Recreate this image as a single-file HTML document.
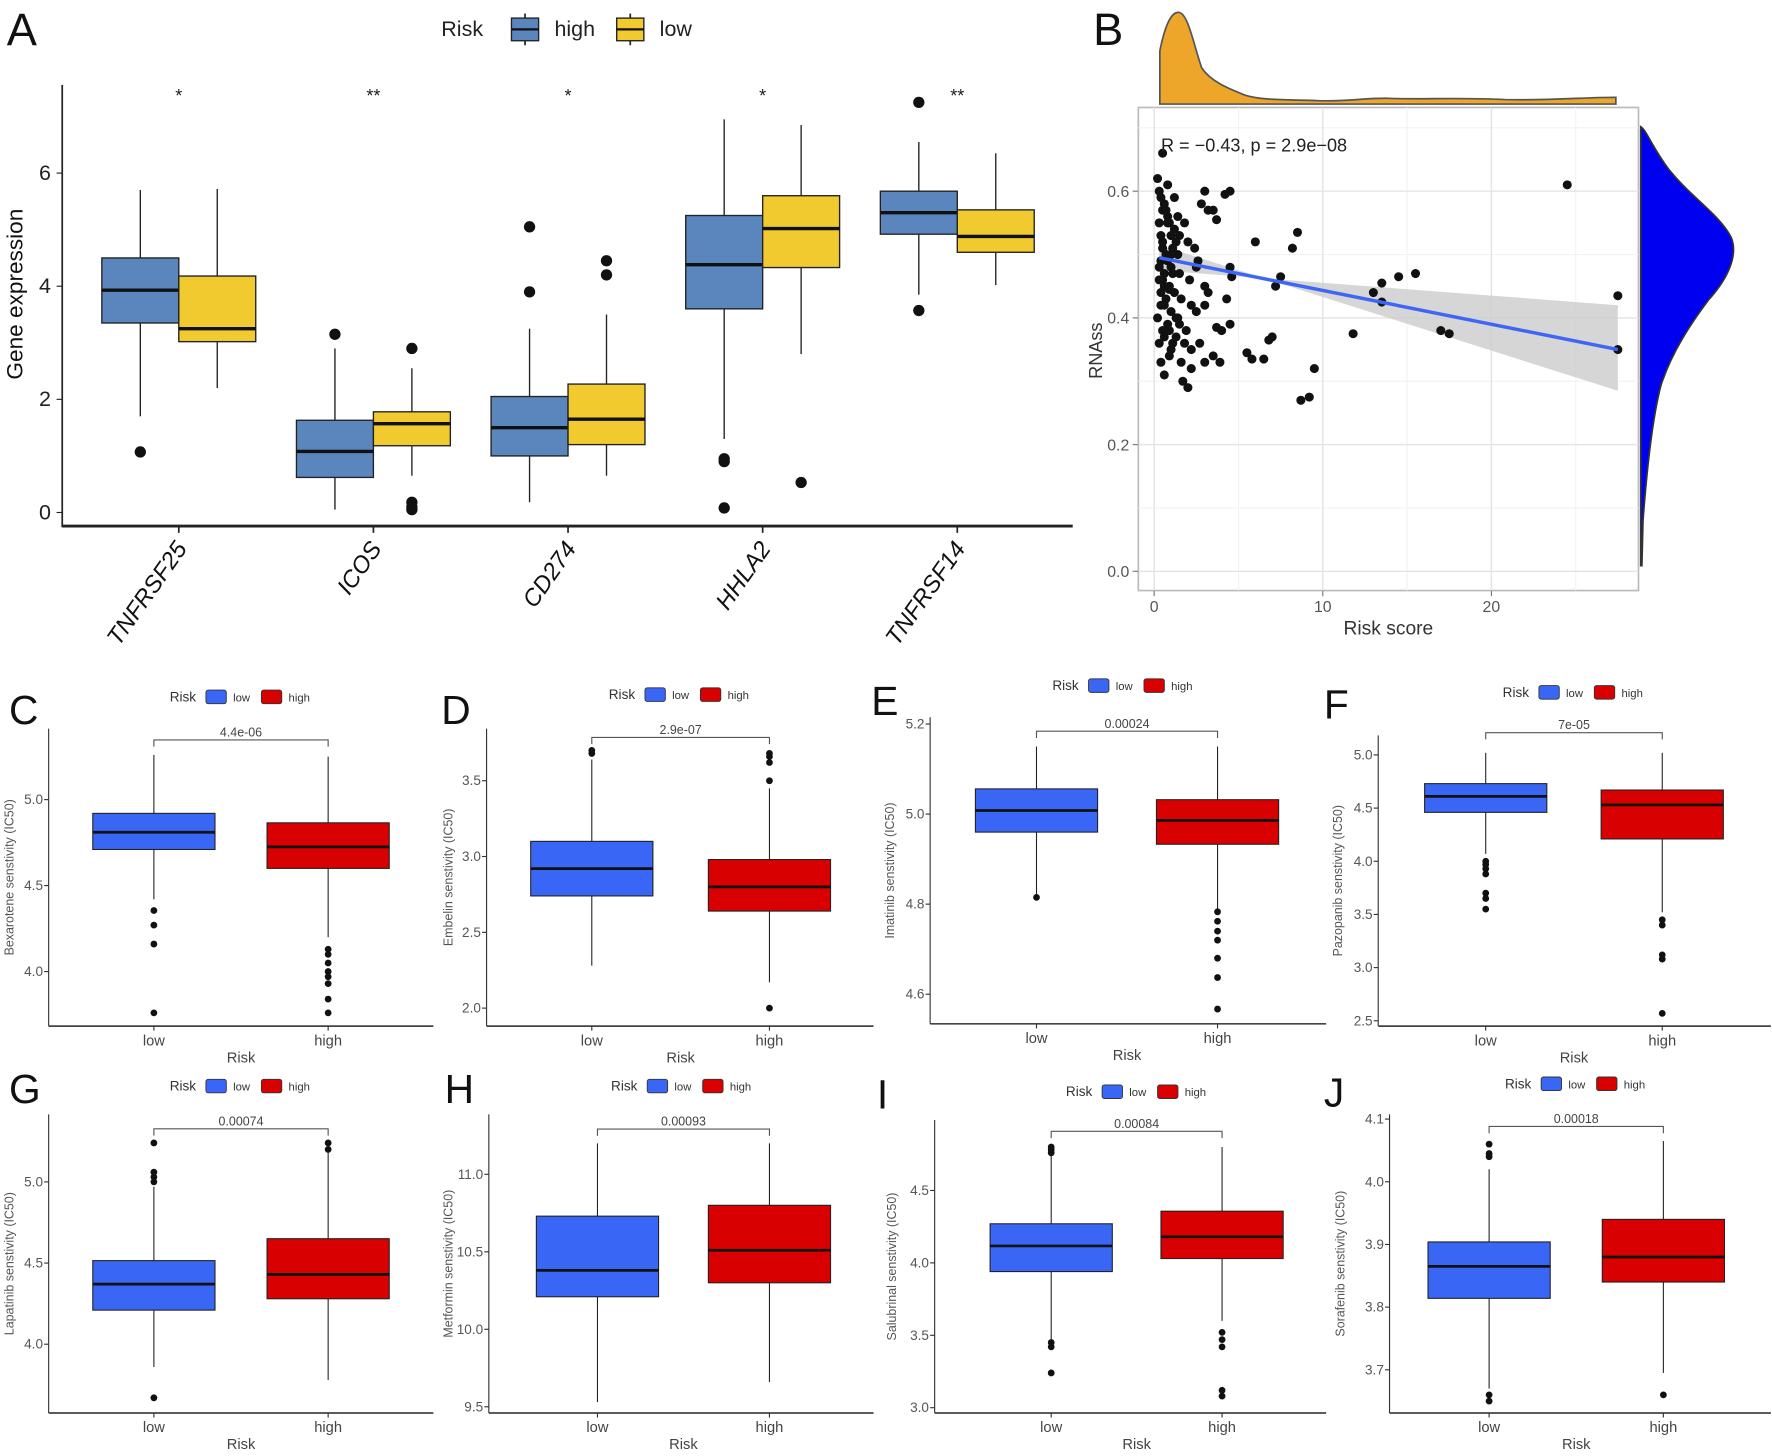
<!DOCTYPE html>
<html><head><meta charset="utf-8"><style>
html,body{margin:0;padding:0;background:#fff;}
svg{display:block;font-family:"Liberation Sans",sans-serif;}
</style></head><body>
<svg id="fig" width="1772" height="1456" viewBox="0 0 1566 1287" preserveAspectRatio="none" xmlns="http://www.w3.org/2000/svg"></svg>
<script>
// ---------- Panel A data ----------
const genes = ["TNFRSF25","ICOS","CD274","HHLA2","TNFRSF14"];
const sigLabels = ["*","**","*","*","**"];
const aTicks = [0,2,4,6];
// [lowWhisker, q1, median, q3, highWhisker]
const aHigh = [[1.7,3.35,3.93,4.5,5.7],[0.05,0.62,1.08,1.63,2.9],[0.18,1.0,1.5,2.05,3.25],[1.3,3.6,4.38,5.25,6.95],[3.85,4.92,5.3,5.68,6.55]];
const aLow = [[2.2,3.02,3.25,4.18,5.72],[0.65,1.18,1.57,1.78,2.55],[0.65,1.2,1.65,2.27,3.5],[2.8,4.33,5.02,5.6,6.85],[4.02,4.6,4.88,5.35,6.35]];
const aHighOut = [[1.07],[3.15],[3.9,5.05],[0.95,0.9,0.08],[7.25,3.57]];
const aLowOut = [[],[2.9,0.18,0.1,0.05],[4.2,4.45],[0.53],[]];

// ---------- Panel B data ----------
const bXTicks = [0,10,20];
const bYTicks = [0.0,0.2,0.4,0.6];
const riskScore = [0.2,0.3,0.4,0.5,0.3,0.6,0.8,0.4,0.5,0.9,1.0,0.7,1.2,0.3,0.5,0.8,1.1,1.3,0.4,0.6,0.9,1.4,0.2,0.7,1.0,1.5,0.5,0.8,1.2,0.3,0.6,1.0,1.3,1.6,0.4,0.9,1.1,0.5,0.7,1.4,0.3,0.8,1.2,0.6,1.0,0.4,1.5,0.9,0.6,1.3,0.5,1.1,0.8,0.4,1.6,1.9,2.2,2.0,1.8,2.5,2.8,3.0,3.2,3.5,3.7,4.2,4.5,2.4,2.6,3.0,1.8,2.2,4.5,4.6,4.3,4.5,4.0,3.7,3.9,3.5,3.2,3.0,2.5,2.0,2.2,3.0,2.1,1.7,5.5,5.8,6.0,6.5,6.8,7.0,7.2,7.5,8.2,8.5,8.7,9.2,9.5,11.8,13.0,13.5,13.5,14.5,15.5,17.0,17.5,24.5,27.5,27.5,1.0,0.6,1.4,2.7,1.5,0.9];
const rnass = [0.62,0.60,0.59,0.57,0.55,0.58,0.56,0.53,0.51,0.55,0.53,0.50,0.54,0.48,0.46,0.49,0.47,0.52,0.44,0.42,0.45,0.50,0.40,0.43,0.41,0.47,0.38,0.39,0.44,0.36,0.37,0.35,0.40,0.43,0.33,0.38,0.36,0.52,0.57,0.56,0.46,0.61,0.59,0.45,0.48,0.42,0.39,0.34,0.31,0.37,0.66,0.51,0.55,0.49,0.33,0.38,0.42,0.52,0.55,0.48,0.58,0.60,0.57,0.57,0.555,0.595,0.60,0.51,0.49,0.45,0.36,0.35,0.48,0.465,0.43,0.39,0.38,0.385,0.33,0.34,0.44,0.42,0.41,0.29,0.32,0.33,0.46,0.30,0.345,0.335,0.52,0.335,0.365,0.37,0.45,0.465,0.51,0.535,0.27,0.275,0.32,0.375,0.44,0.425,0.455,0.465,0.47,0.38,0.375,0.61,0.435,0.35,0.50,0.47,0.40,0.36,0.53,0.445];
const fitStart = [0.3,0.495];
const fitEnd = [27.5,0.35];

// ---------- Bottom panels data ----------
const drugNames = ["Bexarotene","Embelin","Imatinib","Pazopanib","Lapatinib","Metformin","Salubrinal","Sorafenib"];
const panelLetters = ["C","D","E","F","G","H","I","J"];
const pValues = ["4.4e-06","2.9e-07","0.00024","7e-05","0.00074","0.00093","0.00084","0.00018"];
const drugTicks = [[4.0,4.5,5.0],[2.0,2.5,3.0,3.5],[4.6,4.8,5.0,5.2],[2.5,3.0,3.5,4.0,4.5,5.0],[4.0,4.5,5.0],[9.5,10.0,10.5,11.0],[3.0,3.5,4.0,4.5],[3.7,3.8,3.9,4.0,4.1]];
const tickFmt = [1,1,1,1,1,1,1,1];
const lowStats = [[4.42,4.71,4.81,4.92,5.26],[2.28,2.74,2.92,3.10,3.64],[4.82,4.96,5.008,5.056,5.15],[4.07,4.46,4.61,4.73,5.02],[3.86,4.21,4.37,4.515,4.97],[9.53,10.21,10.38,10.73,11.2],[3.47,3.94,4.117,4.27,4.8],[3.67,3.814,3.865,3.904,4.02]];
const highStats = [[4.2,4.60,4.725,4.865,5.25],[2.17,2.64,2.80,2.98,3.45],[4.79,4.933,4.986,5.032,5.15],[3.52,4.21,4.53,4.67,5.02],[3.78,4.28,4.43,4.65,5.18],[9.66,10.30,10.51,10.80,11.2],[3.6,4.03,4.18,4.357,4.8],[3.695,3.84,3.88,3.94,4.065]];
const lowOut = [[4.355,4.27,4.16,3.76],[3.68,3.70],[4.815],[4.0,3.97,3.93,3.88,3.7,3.65,3.55],[5.0,5.03,5.06,5.24,3.67],[],[4.76,4.78,4.8,3.45,3.42,3.24],[4.06,4.045,4.04,3.66,3.65]];
const highOut = [[4.13,4.1,4.05,4.0,3.97,3.93,3.84,3.76],[3.5,3.62,3.66,3.68,2.0],[4.783,4.762,4.74,4.72,4.68,4.637,4.567],[3.45,3.4,3.12,3.08,2.57],[5.24,5.2],[],[3.52,3.47,3.42,3.12,3.08],[3.66]];
// layout (pixel) per panel – not data
const pl = [
 {ax:43,ar:383,top:644,bot:907,xl:136,xh:290,refV:5.0,refY:706.8,ppu:152,br:654,lx:150,ly:616,L:[8,640],yl:12},
 {ax:430,ar:772,top:644,bot:907,xl:523,xh:680,refV:3.0,refY:757.1,ppu:134,br:651.8,lx:538,ly:614,L:[390,640],yl:400},
 {ax:822,ar:1172,top:634,bot:905,xl:916,xh:1076,refV:5.0,refY:719.6,ppu:398,br:646.3,lx:930,ly:606,L:[770,632],yl:790},
 {ax:1218,ar:1565,top:650,bot:907,xl:1313,xh:1469,refV:4.0,refY:761.3,ppu:94,br:647.6,lx:1328,ly:612,L:[1170,635],yl:1186},
 {ax:43,ar:383,top:985,bot:1249,xl:136,xh:290,refV:5.0,refY:1044.7,ppu:143.5,br:997.8,lx:150,ly:960,L:[8,975],yl:12},
 {ax:432,ar:772,top:985,bot:1249,xl:528,xh:680,refV:10.5,refY:1106.5,ppu:137,br:998,lx:540,ly:960,L:[393,975],yl:400},
 {ax:826,ar:1172,top:990,bot:1249,xl:929,xh:1080,refV:4.0,refY:1116.3,ppu:128,br:1000,lx:942,ly:965,L:[775,980],yl:792},
 {ax:1228,ar:1565,top:985,bot:1249,xl:1316,xh:1470,refV:3.9,refY:1100,ppu:554,br:995.7,lx:1330,ly:958,L:[1170,978],yl:1188}
];

const NS="http://www.w3.org/2000/svg";
const svg=document.getElementById('fig');
function el(tag,attrs,parent,text){const e=document.createElementNS(NS,tag);for(const k in attrs)e.setAttribute(k,attrs[k]);if(text!==undefined)e.textContent=text;(parent||svg).appendChild(e);return e;}

function drawBox(g,cx,w,s,outs,yf,fill,sw,r,name){
  const grp=el('g',{},g);
  
  
  el('line',{x1:cx,x2:cx,y1:yf(s[4]),y2:yf(s[3]),stroke:'#222','stroke-width':sw*0.6},grp);
  el('line',{x1:cx,x2:cx,y1:yf(s[1]),y2:yf(s[0]),stroke:'#222','stroke-width':sw*0.6},grp);
  el('rect',{x:cx-w/2,y:yf(s[3]),width:w,height:yf(s[1])-yf(s[3]),fill:fill,stroke:'#222','stroke-width':sw*0.6},grp);
  el('line',{x1:cx-w/2,x2:cx+w/2,y1:yf(s[2]),y2:yf(s[2]),stroke:'#111','stroke-width':sw*1.5},grp);
  outs.forEach(v=>el('circle',{cx:cx,cy:yf(v),r:r,fill:'#111'},grp));
}

// ===== Panel A =====
(function(){
  const g=el('g',{});
  
  
  const y=v=>453-50*v;
  const catX=i=>158+172*i;
  el('text',{x:6,y:40,'font-size':40,fill:'#111'},g,'A');
  const lg=el('g',{},g);
  
  
  el('text',{x:390,y:32,'font-size':19,fill:'#222'},lg,'Risk');
  el('line',{x1:464,x2:464,y1:12,y2:40,stroke:'#222','stroke-width':1.5},lg);
  el('rect',{x:452,y:16,width:24,height:20,fill:'#5a86bd',stroke:'#222','stroke-width':1.2},lg);
  el('line',{x1:452,x2:476,y1:26,y2:26,stroke:'#111','stroke-width':2},lg);
  el('text',{x:490,y:32,'font-size':19,fill:'#222'},lg,'high');
  el('line',{x1:557,x2:557,y1:12,y2:40,stroke:'#222','stroke-width':1.5},lg);
  el('rect',{x:545,y:16,width:24,height:20,fill:'#f0ca2f',stroke:'#222','stroke-width':1.2},lg);
  el('line',{x1:545,x2:569,y1:26,y2:26,stroke:'#111','stroke-width':2},lg);
  el('text',{x:583,y:32,'font-size':19,fill:'#222'},lg,'low');
  el('line',{x1:55,x2:55,y1:75,y2:466,stroke:'#222','stroke-width':1.5},g);
  el('line',{x1:55,x2:948,y1:465,y2:465,stroke:'#222','stroke-width':2.5},g);
  aTicks.forEach(t=>{
    el('line',{x1:50,x2:55,y1:y(t),y2:y(t),stroke:'#222'},g);
    const tt=el('text',{x:45,y:y(t)+6,'font-size':19,'text-anchor':'end',fill:'#222'},g,String(t));
    
  });
  const yt=el('text',{x:20,y:260,'font-size':20,'text-anchor':'middle',fill:'#111',transform:'rotate(-90 20 260)'},g,'Gene expression');
  
  genes.forEach((gn,i)=>{
    const cx=catX(i);
    el('line',{x1:cx,x2:cx,y1:465,y2:471,stroke:'#222','stroke-width':1.5},g);
    const lbl=el('text',{x:cx+8,y:485,'font-size':21,'font-style':'italic','text-anchor':'end',fill:'#111',transform:`rotate(-55 ${cx+8} 485)`},g,gn);
    
    const st=el('text',{x:cx,y:90,'font-size':16,'text-anchor':'middle',fill:'#222'},g,sigLabels[i]);
    
    drawBox(g,cx-34,68,aHigh[i],aHighOut[i],y,'#5a86bd',2,5,'box-high-'+gn.toLowerCase());
    drawBox(g,cx+34,68,aLow[i],aLowOut[i],y,'#f0ca2f',2,5,'box-low-'+gn.toLowerCase());
  });
})();

// ===== Panel B =====
(function(){
  const g=el('g',{});
  
  
  const L=1006,R=1448,T=95,B=522;
  const x=v=>1020+14.9*v;
  const y=v=>505-560*v;
  el('text',{x:966,y:40,'font-size':40,fill:'#111'},g,'B');
  el('rect',{x:L,y:T,width:R-L,height:B-T,fill:'#fff',stroke:'#bbb','stroke-width':1.5},g);
  [5,15,25].forEach(v=>el('line',{x1:x(v),x2:x(v),y1:T,y2:B,stroke:'#f2f2f2','stroke-width':1},g));
  [0.1,0.3,0.5,0.7].forEach(v=>el('line',{x1:L,x2:R,y1:y(v),y2:y(v),stroke:'#f2f2f2','stroke-width':1},g));
  bXTicks.forEach(v=>{el('line',{x1:x(v),x2:x(v),y1:T,y2:B,stroke:'#e4e4e4','stroke-width':1.3},g);
    el('line',{x1:x(v),x2:x(v),y1:B,y2:B+5,stroke:'#777'},g);
    const t=el('text',{x:x(v),y:B+19,'font-size':14,'text-anchor':'middle',fill:'#555'},g,String(v));});
  bYTicks.forEach(v=>{el('line',{x1:L,x2:R,y1:y(v),y2:y(v),stroke:'#e4e4e4','stroke-width':1.3},g);
    el('line',{x1:L-5,x2:L,y1:y(v),y2:y(v),stroke:'#777'},g);
    const t=el('text',{x:L-8,y:y(v)+5,'font-size':14,'text-anchor':'end',fill:'#555'},g,v.toFixed(1));});
  const band=el('path',{d:`M${x(0.3)},${y(0.475)} L${x(27.5)},${y(0.42)} L${x(27.5)},${y(0.285)} L${x(0.3)},${y(0.515)} Z`,fill:'#cfcfcf',opacity:0.85},g);
  
  riskScore.forEach((v,i)=>{const c=el('circle',{cx:x(v),cy:y(rnass[i]),r:4,fill:'#111'},g);});
  const fl=el('line',{x1:x(fitStart[0]),y1:y(fitStart[1]),x2:x(fitEnd[0]),y2:y(fitEnd[1]),stroke:'#3d66f5','stroke-width':3},g);
  
  el('text',{x:1026,y:134,'font-size':16,fill:'#222'},g,'R = −0.43, p = 2.9e−08');
  el('text',{x:974,y:310,'font-size':16,'text-anchor':'middle',fill:'#333',transform:'rotate(-90 974 310)'},g,'RNAss');
  el('text',{x:1227,y:561,'font-size':17,'text-anchor':'middle',fill:'#333'},g,'Risk score');
  const td=el('path',{d:'M1025,92 L1025,45 C1030,20 1036,10 1042,11 C1050,12 1055,40 1062,60 C1070,72 1085,78 1100,84 C1115,89 1140,88 1165,89 C1190,90 1210,86 1230,87 C1260,88 1290,86 1330,88 C1370,89 1400,86 1428,86 L1428,92 Z',fill:'#eda629',stroke:'#555','stroke-width':1.5},g);
  
  const rd=el('path',{d:'M1450,112 C1455,115 1460,130 1475,150 C1495,175 1520,190 1530,210 C1536,225 1528,245 1510,265 C1495,285 1478,310 1468,340 C1460,370 1455,420 1452,460 L1451,500 L1450,500 Z',fill:'#0000f0',stroke:'#333','stroke-width':1.5},g);
  
})();

// ===== Bottom drug panels =====
drugNames.forEach((dn,i)=>{
  const p=pl[i];
  const g=el('g',{});
  
  
  const y=v=>p.refY-(v-p.refV)*p.ppu;
  el('text',{x:p.L[0],y:p.L[1],'font-size':36,fill:'#111'},g,panelLetters[i]);
  const lg=el('g',{},g);
  
  
  el('text',{x:p.lx,y:p.ly+4,'font-size':12,fill:'#333'},lg,'Risk');
  el('rect',{x:p.lx+32,y:p.ly-6,width:18,height:12,rx:2,fill:'#3a66f5',stroke:'#333','stroke-width':0.8},lg);
  el('text',{x:p.lx+56,y:p.ly+4,'font-size':10,fill:'#333'},lg,'low');
  el('rect',{x:p.lx+81,y:p.ly-6,width:18,height:12,rx:2,fill:'#d80000',stroke:'#333','stroke-width':0.8},lg);
  el('text',{x:p.lx+105,y:p.ly+4,'font-size':10,fill:'#333'},lg,'high');
  el('line',{x1:p.ax,x2:p.ax,y1:p.top,y2:p.bot,stroke:'#333','stroke-width':1},g);
  el('line',{x1:p.ax,x2:p.ar,y1:p.bot,y2:p.bot,stroke:'#444','stroke-width':1.5},g);
  drugTicks[i].forEach(t=>{
    el('line',{x1:p.ax-4,x2:p.ax,y1:y(t),y2:y(t),stroke:'#333'},g);
    const tt=el('text',{x:p.ax-5,y:y(t)+4,'font-size':12,'text-anchor':'end',fill:'#555'},g,t.toFixed(tickFmt[i]));
    
  });
  [[p.xl,'low'],[p.xh,'high']].forEach(([cx,l])=>{
    el('line',{x1:cx,x2:cx,y1:p.bot,y2:p.bot+4,stroke:'#333'},g);
    el('text',{x:cx,y:p.bot+17,'font-size':13,'text-anchor':'middle',fill:'#444'},g,l);
  });
  el('text',{x:(p.xl+p.xh)/2,y:p.bot+32,'font-size':13,'text-anchor':'middle',fill:'#444'},g,'Risk');
  const my=(p.top+p.bot)/2;
  el('text',{x:p.yl,y:my,'font-size':11,'text-anchor':'middle',fill:'#555',transform:`rotate(-90 ${p.yl} ${my})`},g,dn+' senstivity (IC50)');
  el('path',{d:`M${p.xl},${p.br+6} L${p.xl},${p.br} L${p.xh},${p.br} L${p.xh},${p.br+6}`,fill:'none',stroke:'#555','stroke-width':1},g);
  el('text',{x:(p.xl+p.xh)/2,y:p.br-3,'font-size':11,'text-anchor':'middle',fill:'#444'},g,pValues[i]);
  drawBox(g,p.xl,108,lowStats[i],lowOut[i],y,'#3a66f5',1.6,3,'box-low');
  drawBox(g,p.xh,108,highStats[i],highOut[i],y,'#d80000',1.6,3,'box-high');
});
</script>
</body></html>
